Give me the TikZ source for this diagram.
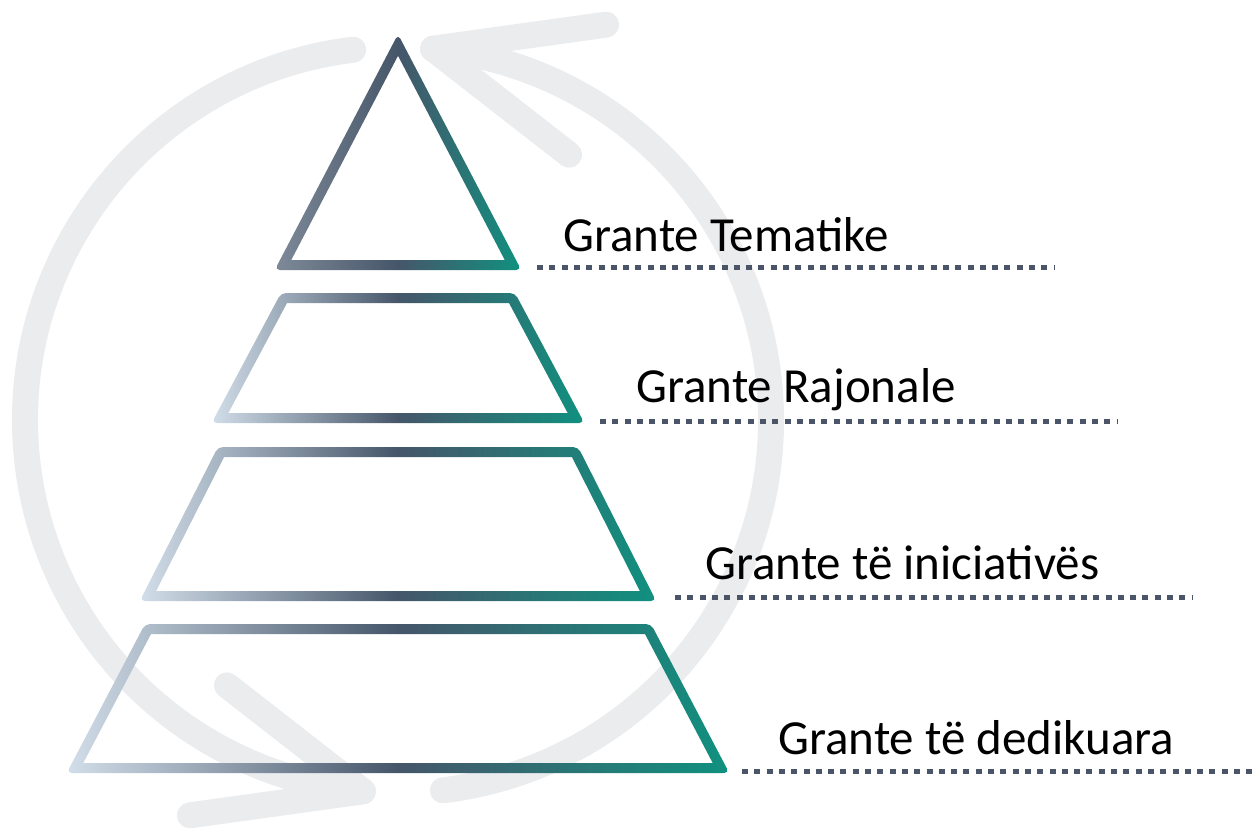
\documentclass[tikz,border=0pt]{standalone}
\usepackage{fontspec}
\setmainfont{Carlito}
\definecolor{ringgrey}{HTML}{EBECEE}
\definecolor{lightend}{HTML}{D2DEE9}
\definecolor{midgrey}{HTML}{7E8A98}
\definecolor{slate}{HTML}{46566A}
\definecolor{tealc}{HTML}{10917F}
\definecolor{dotc}{HTML}{4A5568}

% gradient outline of a trapezoid level:
% #1 top y, #2 top half width, #3 bottom y, #4 bottom half width, #5 left colour
\newcommand{\levelTrap}[5]{%
  \pgfmathsetmacro{\lvK}{(#4-#2)/(#3-#1)}%
  \pgfmathsetmacro{\lvS}{sqrt(1+\lvK*\lvK)}%
  \pgfmathsetmacro{\lvOT}{#2-5*\lvK+5*\lvS}%
  \pgfmathsetmacro{\lvOB}{#4+5*\lvK+5*\lvS}%
  \pgfmathsetmacro{\lvIT}{#2+5*\lvK-5*\lvS}%
  \pgfmathsetmacro{\lvIB}{#4-5*\lvK-5*\lvS}%
  \shade[left color=#5,right color=tealc,middle color=slate]
    [rounded corners=5pt] (398-\lvOT,#1-5) -- (398+\lvOT,#1-5) -- (398+\lvOB,#3+5) -- (398-\lvOB,#3+5) -- cycle
    [sharp corners] (398-\lvIT,#1+5) -- (398-\lvIB,#3-5) -- (398+\lvIB,#3-5) -- (398+\lvIT,#1+5) -- cycle;
}
% gradient outline of the top triangle: #1 apex y, #2 base y, #3 base half width, #4 left colour
\newcommand{\levelTri}[4]{%
  \pgfmathsetmacro{\lvK}{#3/(#2-#1)}%
  \pgfmathsetmacro{\lvS}{sqrt(1+\lvK*\lvK)}%
  \pgfmathsetmacro{\lvOA}{#1-5*\lvS/\lvK}%
  \pgfmathsetmacro{\lvIA}{#1+5*\lvS/\lvK}%
  \pgfmathsetmacro{\lvOB}{#3+5*\lvK+5*\lvS}%
  \pgfmathsetmacro{\lvIB}{#3-5*\lvK-5*\lvS}%
  \shade[left color=#4,right color=tealc,middle color=slate]
    [rounded corners=5pt] (398,\lvOA) -- (398+\lvOB,#2+5) -- (398-\lvOB,#2+5) -- cycle
    [sharp corners] (398,\lvIA) -- (398-\lvIB,#2-5) -- (398+\lvIB,#2-5) -- cycle;
}

\begin{document}
\begin{tikzpicture}[x=1pt,y=-1pt,
  ring/.style={draw=ringgrey,line width=26pt,line cap=round,line join=round},
  dotline/.style={draw=dotc,line width=5pt,dash pattern=on 6pt off 6.3pt},
  label/.style={anchor=base west,inner sep=0pt,text=black,font=\fontsize{49}{59}\selectfont}]
\useasboundingbox (0,0) rectangle (1255,827);

% background cycle ring
\coordinate (C) at (398,420);
\draw[ring] ([shift={(263.1:373)}]C) arc[start angle=263.1,end angle=95.4,radius=373] coordinate (tip1);
\draw[ring] ([shift={(83.1:373)}]C) arc[start angle=83.1,end angle=-84.6,radius=373] coordinate (tip2);
\coordinate (a1) at ([shift={(-136,-106)}]tip1);
\coordinate (b1) at ([shift={(-173,24)}]tip1);
\coordinate (a2) at ([shift={(136,106)}]tip2);
\coordinate (b2) at ([shift={(173,-24)}]tip2);
\draw[ring] (a1) -- (tip1) -- (b1);
\draw[ring] (a2) -- (tip2) -- (b2);

% pyramid levels with gradient outlines
\levelTri{45}{265}{115}{midgrey}
\levelTrap{298}{114}{418}{178}{lightend}
\levelTrap{452}{177}{596}{250}{lightend}
\levelTrap{629}{250}{768}{323}{lightend}

% leader lines
\coordinate (s1) at (537,267); \coordinate (e1) at (1055,267);
\coordinate (s2) at (600,421); \coordinate (e2) at (1117,421);
\coordinate (s3) at (675,597); \coordinate (e3) at (1193,597);
\coordinate (s4) at (742,771); \coordinate (e4) at (1258,771);
\draw[dotline] (s1) -- (e1);
\draw[dotline] (s2) -- (e2);
\draw[dotline] (s3) -- (e3);
\draw[dotline] (s4) -- (e4);

% labels
\node[label] (t1) at (563,251) {Grante Tematike};
\node[label] (t2) at (636,402) {Grante Rajonale};
\node[label] (t3) at (705,579) {Grante të iniciativës};
\node[label] (t4) at (778,754) {Grante të dedikuara};
\end{tikzpicture}
\end{document}
